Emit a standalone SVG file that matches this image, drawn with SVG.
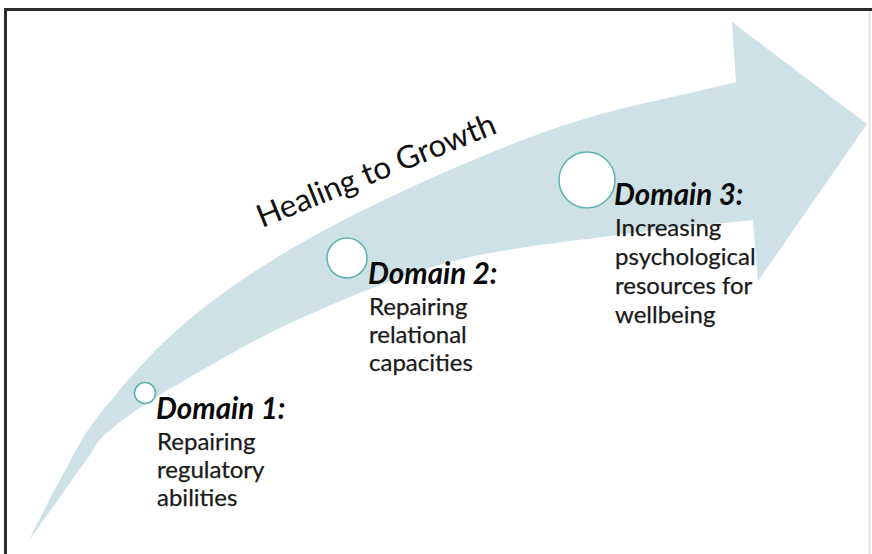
<svg xmlns="http://www.w3.org/2000/svg" width="872" height="554" viewBox="0 0 872 554">
  <style>
    .frame { stroke: #2b2b2b; stroke-width: 3; fill: none; }
    .band { fill: #cde1e6; }
    .dot { fill: #ffffff; stroke: #62b2b5; stroke-width: 1.6; }
    .title { font-family: Lato, "Noto Sans", "Liberation Sans", sans-serif; font-size: 31.5px; fill: #111; }
    .head { font-family: Lato, "Noto Sans", "Liberation Sans", sans-serif; font-size: 29.5px; font-weight: bold; font-style: italic; fill: #0a0a0a; }
    .body { font-family: Lato, "Noto Sans", "Liberation Sans", sans-serif; font-size: 24px; fill: #1a1a1a; stroke: #1a1a1a; stroke-width: 0.25; }
  </style>

  <rect width="872" height="554" fill="#ffffff"/>
  <!-- open frame: top and left rules, faint right edge -->
  <line class="frame" x1="4" y1="9.5" x2="872" y2="9.5"/>
  <line class="frame" x1="5.5" y1="8" x2="5.5" y2="554"/>
  <line x1="869.5" y1="11" x2="869.5" y2="554" stroke="#e4e4e4" stroke-width="2"/>

  <!-- curved growth arrow -->
  <g id="arrow">
    <path class="band" d="M28,542
      C38.7,521.3 47.5,502 60,480
      C72.5,458 80.2,437.8 103,410
      C125.8,382.2 157.5,344.3 197,313
      C236.5,281.7 281.2,252.5 340,222
      C398.8,191.5 484,153.3 550,130
      C616,106.7 674,98 736,82
      L732,22 L867,124 L758,281 L753,220
      C707.7,225 667.5,228 617,235
      C566.5,242 503.3,247.8 450,262
      C396.7,276.2 342,299.8 297,320
      C252,340.2 212.3,364.2 180,383
      C147.7,401.8 125.8,416.8 110,430
      C94.2,443.2 98.7,443.3 85,462
      C71.3,480.7 47,515.3 28,542 Z"/>
    <text class="title" transform="translate(262,228) rotate(-22)">Healing to Growth</text>
  </g>

  <g id="connectors"></g>

  <g id="domain1">
    <circle class="dot" cx="145" cy="393" r="10.5"/>
    <text class="head" x="156" y="419">Domain 1:</text>
    <text class="body" x="157" y="450">Repairing</text>
    <text class="body" x="157" y="478">regulatory</text>
    <text class="body" x="157" y="506">abilities</text>
  </g>

  <g id="domain2">
    <circle class="dot" cx="347" cy="258" r="20"/>
    <text class="head" x="368" y="284">Domain 2:</text>
    <text class="body" x="369" y="315">Repairing</text>
    <text class="body" x="369" y="343">relational</text>
    <text class="body" x="369" y="371">capacities</text>
  </g>

  <g id="domain3">
    <circle class="dot" cx="587" cy="180" r="28"/>
    <text class="head" x="614" y="205">Domain 3:</text>
    <text class="body" x="615" y="236">Increasing</text>
    <text class="body" x="615" y="265">psychological</text>
    <text class="body" x="615" y="294">resources for</text>
    <text class="body" x="615" y="323">wellbeing</text>
  </g>
</svg>
